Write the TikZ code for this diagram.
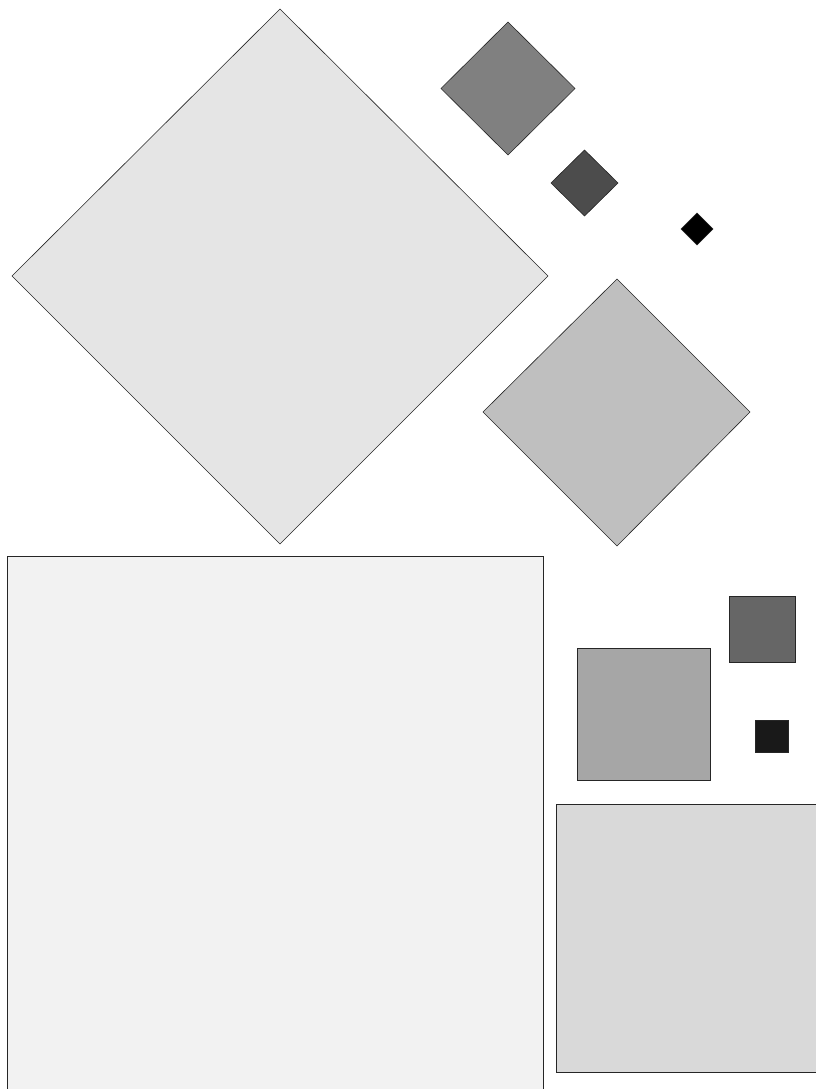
\documentclass[tikz,border=0pt]{standalone}
\begin{document}
\begin{tikzpicture}[x=1pt,y=-1pt,
  shp/.style={draw=black!85,line width=0.6pt,line join=miter}]
\useasboundingbox (0,0) rectangle (816,1089);
\clip (0,0) rectangle (816,1089);
% diamonds
\filldraw[shp,fill=black!10] (280,9) -- (548,276) -- (280,544) -- (12,276) -- cycle;
\filldraw[shp,fill=black!50] (508,22) -- (575,88.5) -- (508,155) -- (441,88.5) -- cycle;
\filldraw[shp,fill=black!70] (584.5,150) -- (618,183) -- (584.5,216) -- (551,183) -- cycle;
\filldraw[shp,fill=black] (697,213) -- (713,229) -- (697,245) -- (681,229) -- cycle;
\filldraw[shp,fill=black!25] (617,279) -- (750,412) -- (617,546) -- (483,412) -- cycle;
% squares
\filldraw[shp,fill=black!5] (7.5,556) rectangle (543,1091);
\filldraw[shp,fill=black!60] (729,596) rectangle (795,662);
\filldraw[shp,fill=black!35] (577,648) rectangle (710,780);
\filldraw[shp,fill=black!90] (755,720) rectangle (788,752.5);
\filldraw[shp,fill=black!15] (556,804) rectangle (824,1072);
\end{tikzpicture}
\end{document}
